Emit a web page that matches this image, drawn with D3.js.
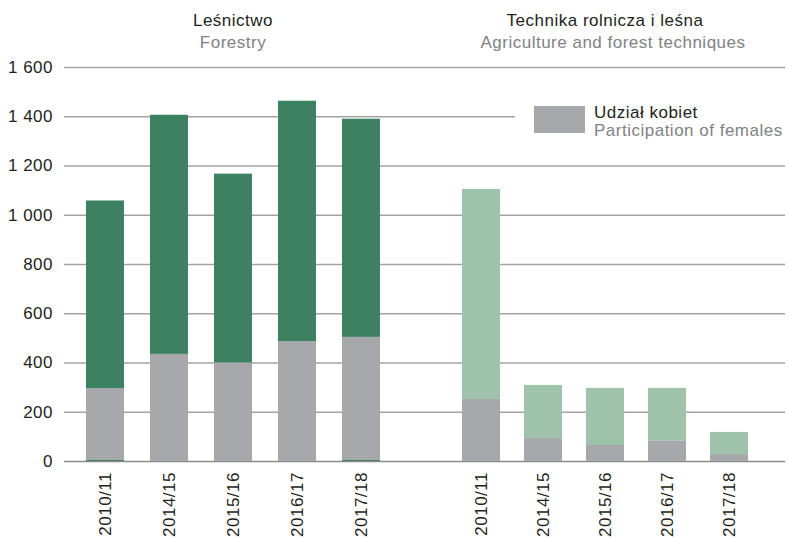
<!DOCTYPE html>
<html>
<head>
<meta charset="utf-8">
<script src="https://cdn.jsdelivr.net/npm/d3@7/dist/d3.min.js"></script>
<style>
  html, body { margin: 0; padding: 0; background: #fff; }
  svg { display: block; font-family: "Liberation Sans", Arial, sans-serif; }
  svg text { letter-spacing: 0.5px; }
</style>
</head>
<body>
<svg id="chart" width="788" height="538"></svg>
<script>
// School years shown in both panels
const categories = ["2010/11", "2014/15", "2015/16", "2016/17", "2017/18"];

// Leśnictwo / Forestry
const forestryTotal = [1058, 1406, 1167, 1463, 1390];
const forestryFemales = [292, 435, 400, 487, 500];
const forestryBase = [4, 0, 0, 0, 4];

// Technika rolnicza i leśna / Agriculture and forest techniques
const techniquesTotal = [1105, 309, 297, 297, 118];
const techniquesFemales = [252, 93, 65, 82, 28];

const yTicks = [0, 200, 400, 600, 800, 1000, 1200, 1400, 1600];

const panelTitles = ["Leśnictwo", "Technika rolnicza i leśna"];
const panelSubtitles = ["Forestry", "Agriculture and forest techniques"];
const legendTitle = "Udział kobiet";
const legendSubtitle = "Participation of females";

const colors = {
  forestry: "#3d8260",
  techniques: "#9fc2ab",
  females: "#a7a8ab",
  grid: "#a3a3a3",
  zero: "#8c8c8c",
  text: "#231f20",
  subtext: "#808285"
};

const svg = d3.select("#chart");
const fmt = d3.formatLocale({ decimal: ",", thousands: " ", grouping: [3], currency: ["", ""] }).format(",d");

const y = d3.scaleLinear().domain([0, 1600]).range([461, 67]);

const gridLeft = 64, gridRight = 785;

// gridlines + tick labels
const yAxis = d3.axisLeft(y)
  .tickValues(yTicks)
  .tickFormat(fmt)
  .tickSizeInner(-(gridRight - gridLeft))
  .tickSizeOuter(0)
  .tickPadding(11);

const gy = svg.append("g")
  .attr("transform", `translate(${gridLeft},0)`)
  .call(yAxis);
gy.select(".domain").remove();
gy.selectAll(".tick line")
  .attr("stroke", d => d === 0 ? colors.zero : colors.grid)
  .attr("stroke-width", 1.4);
gy.selectAll(".tick text")
  .attr("fill", colors.text)
  .style("font-size", "17px");

// two panels, each with its own band scale
const panels = [
  {
    x: d3.scaleBand().domain(categories).range([65, 401]).paddingInner(0.40625).paddingOuter(0.328),
    total: forestryTotal, females: forestryFemales, base: forestryBase,
    color: colors.forestry
  },
  {
    x: d3.scaleBand().domain(categories).range([440, 770]).paddingInner(0.387).paddingOuter(0.355),
    total: techniquesTotal, females: techniquesFemales, base: categories.map(() => 0),
    color: colors.techniques
  }
];

const barsLayer = svg.append("g");

panels.forEach((p, pi) => {
  const rows = categories.map((c, i) => ({
    cat: c,
    base: p.base[i],
    females: p.females[i],
    rest: p.total[i] - p.females[i] - p.base[i]
  }));
  const stacked = d3.stack().keys(["base", "females", "rest"])(rows);
  const fill = { base: p.color, females: colors.females, rest: p.color };

  barsLayer.append("g")
    .selectAll("g")
    .data(stacked)
    .join("g")
    .attr("fill", s => fill[s.key])
    .selectAll("rect")
    .data(s => s)
    .join("rect")
    .attr("x", d => p.x(d.data.cat))
    .attr("width", p.x.bandwidth())
    .attr("y", d => y(d[1]))
    .attr("height", d => Math.max(0, y(d[0]) - y(d[1])));

  // category labels, rotated
  svg.append("g")
    .selectAll("text")
    .data(categories)
    .join("text")
    .attr("transform", c => `translate(${p.x(c) + p.x.bandwidth() / 2 + 6},472) rotate(-90)`)
    .attr("text-anchor", "end")
    .attr("fill", colors.text)
    .style("font-size", "17px")
    .text(c => c);

  const cx = p.x(categories[0]) + (p.x(categories[4]) + p.x.bandwidth() - p.x(categories[0])) / 2;
  svg.append("text")
    .attr("x", cx).attr("y", 26)
    .attr("text-anchor", "middle")
    .attr("fill", colors.text)
    .style("font-size", "17px")
    .text(panelTitles[pi]);
  svg.append("text")
    .attr("x", cx + (pi === 1 ? 8 : 0)).attr("y", 48)
    .attr("text-anchor", "middle")
    .attr("fill", colors.subtext)
    .style("font-size", "17px")
    .text(panelSubtitles[pi]);
});

// legend
const legend = svg.append("g");
legend.append("rect")
  .attr("x", 515).attr("y", 100).attr("width", 273).attr("height", 42)
  .attr("fill", "#fff");
legend.append("rect")
  .attr("x", 534).attr("y", 106).attr("width", 51).attr("height", 27)
  .attr("fill", colors.females);
legend.append("text")
  .attr("x", 594).attr("y", 118)
  .attr("fill", colors.text)
  .style("font-size", "17px")
  .text(legendTitle);
legend.append("text")
  .attr("x", 594).attr("y", 136)
  .attr("fill", colors.subtext)
  .style("font-size", "17px")
  .text(legendSubtitle);
</script>
</body>
</html>
